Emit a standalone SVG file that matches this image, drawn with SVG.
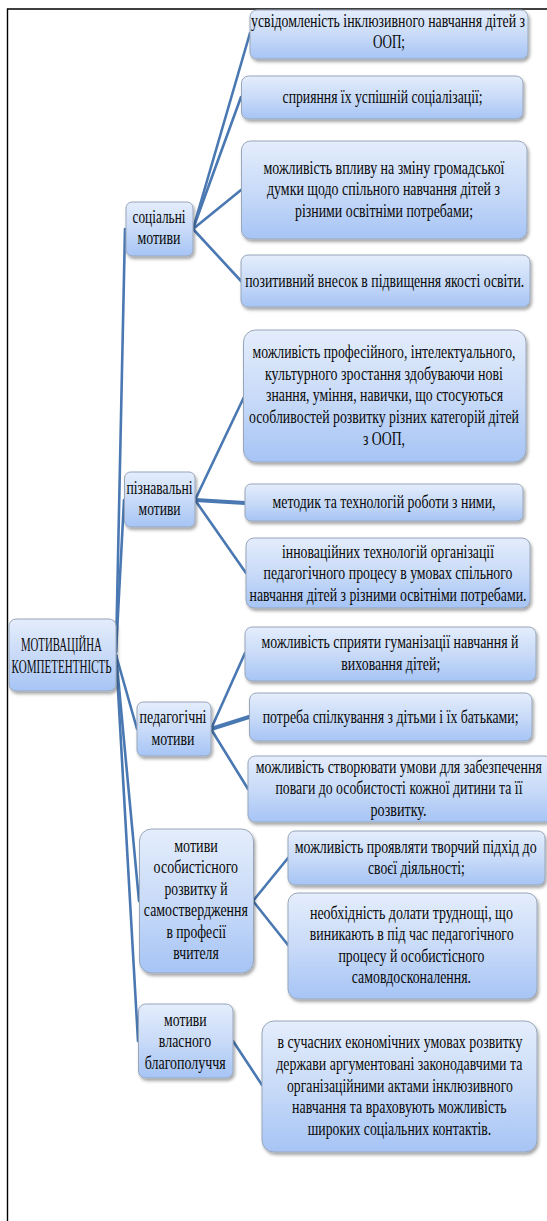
<svg xmlns="http://www.w3.org/2000/svg" width="547" height="1221" viewBox="0 0 547 1221">
<defs>
<linearGradient id="g" x1="0" y1="0" x2="0" y2="1">
<stop offset="0" stop-color="#e4edfc"/>
<stop offset="0.5" stop-color="#c9dbf8"/>
<stop offset="1" stop-color="#a6c4f5"/>
</linearGradient>
<filter id="sh" x="-10%" y="-10%" width="125%" height="130%">
<feDropShadow dx="1.5" dy="2.5" stdDeviation="1.5" flood-color="#000" flood-opacity="0.35"/>
</filter>
</defs>
<style>
.b{fill:url(#g);stroke:#98a6ba;stroke-width:1;filter:url(#sh)}
.t{font-family:"Liberation Serif","Times New Roman",serif;font-size:18.5px;fill:#0a0a0a;text-anchor:middle}
.c{fill:none;stroke:#4a78b2;stroke-width:2.6;stroke-linecap:round}
.k{stroke-width:4}
.f{stroke:#000;stroke-width:1.4;fill:none}
</style>
<rect width="547" height="1221" fill="#fff"/>
<path class="f" d="M7.5 1221 V9 H547"/>
<g id="connectors">
<path class="c" d="M116 652 L125 229"/>
<path class="c" d="M116 652 L124 500"/>
<path class="c" d="M116 655 L137 729"/>
<path class="c" d="M116 655 L139 901"/>
<path class="c" d="M116 655 L138 1041"/>
<path class="c" d="M193 229 L250 33"/>
<path class="c" d="M193 229 L241 97"/>
<path class="c" d="M193 229 L241 190"/>
<path class="c" d="M193 229 L241 281"/>
<path class="c" d="M195 500 L244 397"/>
<path class="c k" d="M195 500 L245 503"/>
<path class="c" d="M195 500 L246 573"/>
<path class="c" d="M211 729 L245 653"/>
<path class="c k" d="M211 729 L249 717"/>
<path class="c" d="M211 729 L248 789"/>
<path class="c" d="M253 901 L288 858"/>
<path class="c" d="M253 901 L288 945"/>
<path class="c" d="M233 1041 L262 1085"/>
</g>
<g id="n1"><rect class="b" x="250" y="10" width="278" height="49" rx="7"/>
<text class="t" transform="translate(388 0) scale(0.63 1)" y="27" textLength="434.9" lengthAdjust="spacingAndGlyphs">усвідомленість інклюзивного навчання дітей з</text>
<text class="t" transform="translate(389 0) scale(0.63 1)" y="48.5" textLength="50.8" lengthAdjust="spacingAndGlyphs">ООП;</text></g>
<g id="n2"><rect class="b" x="241.5" y="76" width="281.5" height="43" rx="7"/>
<text class="t" transform="translate(382.6 0) scale(0.63 1)" y="103" textLength="317.5" lengthAdjust="spacingAndGlyphs">сприяння їх успішній соціалізації;</text></g>
<g id="n3"><rect class="b" x="241.5" y="141" width="285.5" height="98" rx="9"/>
<text class="t" transform="translate(384 0) scale(0.63 1)" y="174" textLength="382.5" lengthAdjust="spacingAndGlyphs">можливість впливу на зміну громадської</text>
<text class="t" transform="translate(383.5 0) scale(0.63 1)" y="195.5" textLength="369.8" lengthAdjust="spacingAndGlyphs">думки щодо спільного навчання дітей з</text>
<text class="t" transform="translate(384 0) scale(0.63 1)" y="217" textLength="282.5" lengthAdjust="spacingAndGlyphs">різними освітніми потребами;</text></g>
<g id="n4"><rect class="b" x="241" y="255" width="289" height="52" rx="7"/>
<text class="t" transform="translate(384.7 0) scale(0.63 1)" y="287" textLength="442.9" lengthAdjust="spacingAndGlyphs">позитивний внесок в підвищення якості освіти.</text></g>
<g id="social"><rect class="b" x="126" y="202" width="67" height="54" rx="6"/>
<text class="t" transform="translate(159 0) scale(0.63 1)" y="223" textLength="84.1" lengthAdjust="spacingAndGlyphs">соціальні</text>
<text class="t" transform="translate(159 0) scale(0.63 1)" y="244.5" textLength="68.3" lengthAdjust="spacingAndGlyphs">мотиви</text></g>
<g id="n5"><rect class="b" x="243.5" y="330" width="282.5" height="132" rx="12"/>
<text class="t" transform="translate(384 0) scale(0.63 1)" y="358" textLength="417.5" lengthAdjust="spacingAndGlyphs">можливість професійного, інтелектуального,</text>
<text class="t" transform="translate(384 0) scale(0.63 1)" y="380" textLength="377.8" lengthAdjust="spacingAndGlyphs">культурного зростання здобуваючи нові</text>
<text class="t" transform="translate(384.5 0) scale(0.63 1)" y="401.5" textLength="376.2" lengthAdjust="spacingAndGlyphs">знання, уміння, навички, що стосуються</text>
<text class="t" transform="translate(384 0) scale(0.63 1)" y="423" textLength="428.6" lengthAdjust="spacingAndGlyphs">особливостей розвитку різних категорій дітей</text>
<text class="t" transform="translate(384 0) scale(0.63 1)" y="445" textLength="66.7" lengthAdjust="spacingAndGlyphs">з ООП,</text></g>
<g id="pizn"><rect class="b" x="124.5" y="472" width="70.5" height="55" rx="6"/>
<text class="t" transform="translate(159.5 0) scale(0.63 1)" y="494" textLength="104.8" lengthAdjust="spacingAndGlyphs">пізнавальні</text>
<text class="t" transform="translate(159.6 0) scale(0.63 1)" y="515.5" textLength="66.7" lengthAdjust="spacingAndGlyphs">мотиви</text></g>
<g id="n6"><rect class="b" x="245" y="484" width="278" height="37" rx="6"/>
<text class="t" transform="translate(384 0) scale(0.63 1)" y="508" textLength="354" lengthAdjust="spacingAndGlyphs">методик та технологій роботи з ними,</text></g>
<g id="n7"><rect class="b" x="246" y="538" width="284" height="70" rx="8"/>
<text class="t" transform="translate(388 0) scale(0.63 1)" y="558" textLength="336.5" lengthAdjust="spacingAndGlyphs">інноваційних технологій організації</text>
<text class="t" transform="translate(388 0) scale(0.63 1)" y="579.5" textLength="395.2" lengthAdjust="spacingAndGlyphs">педагогічного процесу в умовах спільного</text>
<text class="t" transform="translate(388 0) scale(0.63 1)" y="601" textLength="439.7" lengthAdjust="spacingAndGlyphs">навчання дітей з різними освітніми потребами.</text></g>
<g id="root"><rect class="b" x="9" y="619" width="107" height="72" rx="7"/>
<text class="t" transform="translate(61.4 0) scale(0.63 1)" y="651" textLength="128.6" lengthAdjust="spacingAndGlyphs">МОТИВАЦІЙНА</text>
<text class="t" transform="translate(61.6 0) scale(0.63 1)" y="673" textLength="158.7" lengthAdjust="spacingAndGlyphs">КОМПЕТЕНТНІСТЬ</text></g>
<g id="ped"><rect class="b" x="137" y="702" width="74" height="54" rx="6"/>
<text class="t" transform="translate(173 0) scale(0.63 1)" y="723" textLength="106.3" lengthAdjust="spacingAndGlyphs">педагогічні</text>
<text class="t" transform="translate(173 0) scale(0.63 1)" y="745" textLength="68.3" lengthAdjust="spacingAndGlyphs">мотиви</text></g>
<g id="n8"><rect class="b" x="245" y="627" width="291" height="54" rx="7"/>
<text class="t" transform="translate(390 0) scale(0.63 1)" y="648" textLength="407.9" lengthAdjust="spacingAndGlyphs">можливість сприяти гуманізації навчання й</text>
<text class="t" transform="translate(390.8 0) scale(0.63 1)" y="670" textLength="157.1" lengthAdjust="spacingAndGlyphs">виховання дітей;</text></g>
<g id="n9"><rect class="b" x="249.5" y="693" width="282.5" height="48" rx="7"/>
<text class="t" transform="translate(390.6 0) scale(0.63 1)" y="723" textLength="406.3" lengthAdjust="spacingAndGlyphs">потреба спілкування з дітьми і їх батьками;</text></g>
<g id="n10"><rect class="b" x="248" y="756" width="304" height="66" rx="7"/>
<text class="t" transform="translate(398.8 0) scale(0.63 1)" y="773" textLength="454" lengthAdjust="spacingAndGlyphs">можливість створювати умови для забезпечення</text>
<text class="t" transform="translate(399 0) scale(0.63 1)" y="794.5" textLength="392.1" lengthAdjust="spacingAndGlyphs">поваги до особистості кожної дитини та її</text>
<text class="t" transform="translate(398.5 0) scale(0.63 1)" y="816" textLength="88.9" lengthAdjust="spacingAndGlyphs">розвитку.</text></g>
<g id="osob"><rect class="b" x="139.5" y="829" width="114" height="144" rx="12"/>
<text class="t" transform="translate(196 0) scale(0.63 1)" y="852" textLength="69.2" lengthAdjust="spacingAndGlyphs">мотиви</text>
<text class="t" transform="translate(195.8 0) scale(0.63 1)" y="873.5" textLength="134" lengthAdjust="spacingAndGlyphs">особистісного</text>
<text class="t" transform="translate(196 0) scale(0.63 1)" y="895" textLength="100" lengthAdjust="spacingAndGlyphs">розвитку й</text>
<text class="t" transform="translate(195.8 0) scale(0.63 1)" y="916.5" textLength="165.1" lengthAdjust="spacingAndGlyphs">самоствердження</text>
<text class="t" transform="translate(196.3 0) scale(0.63 1)" y="938" textLength="94.8" lengthAdjust="spacingAndGlyphs">в професії</text>
<text class="t" transform="translate(196 0) scale(0.63 1)" y="959.5" textLength="72.1" lengthAdjust="spacingAndGlyphs">вчителя</text></g>
<g id="n11"><rect class="b" x="288" y="831" width="257" height="54" rx="7"/>
<text class="t" transform="translate(415.7 0) scale(0.63 1)" y="853" textLength="384.1" lengthAdjust="spacingAndGlyphs">можливість проявляти творчий підхід до</text>
<text class="t" transform="translate(416.4 0) scale(0.63 1)" y="874.5" textLength="153.5" lengthAdjust="spacingAndGlyphs">своєї діяльності;</text></g>
<g id="n12"><rect class="b" x="288" y="893" width="249" height="106" rx="10"/>
<text class="t" transform="translate(411.4 0) scale(0.63 1)" y="919" textLength="322.2" lengthAdjust="spacingAndGlyphs">необхідність долати труднощі, що</text>
<text class="t" transform="translate(411.7 0) scale(0.63 1)" y="940.5" textLength="323.5" lengthAdjust="spacingAndGlyphs">виникають в під час педагогічного</text>
<text class="t" transform="translate(411.4 0) scale(0.63 1)" y="962" textLength="231.7" lengthAdjust="spacingAndGlyphs">процесу й особистісного</text>
<text class="t" transform="translate(411.4 0) scale(0.63 1)" y="983.5" textLength="189.4" lengthAdjust="spacingAndGlyphs">самовдосконалення.</text></g>
<g id="vlasn"><rect class="b" x="138.5" y="1004" width="94.5" height="74" rx="7"/>
<text class="t" transform="translate(185.3 0) scale(0.63 1)" y="1026" textLength="67.6" lengthAdjust="spacingAndGlyphs">мотиви</text>
<text class="t" transform="translate(185 0) scale(0.63 1)" y="1047.5" textLength="83" lengthAdjust="spacingAndGlyphs">власного</text>
<text class="t" transform="translate(185.3 0) scale(0.63 1)" y="1069" textLength="128.6" lengthAdjust="spacingAndGlyphs">благополуччя</text></g>
<g id="n13"><rect class="b" x="262" y="1021" width="275" height="131" rx="12"/>
<text class="t" transform="translate(399.9 0) scale(0.63 1)" y="1048" textLength="388.9" lengthAdjust="spacingAndGlyphs">в сучасних економічних умовах розвитку</text>
<text class="t" transform="translate(399.3 0) scale(0.63 1)" y="1070" textLength="390.5" lengthAdjust="spacingAndGlyphs">держави аргументовані законодавчими та</text>
<text class="t" transform="translate(399.9 0) scale(0.63 1)" y="1092" textLength="358.7" lengthAdjust="spacingAndGlyphs">організаційними актами інклюзивного</text>
<text class="t" transform="translate(399.3 0) scale(0.63 1)" y="1113.5" textLength="340.6" lengthAdjust="spacingAndGlyphs">навчання та враховують можливість</text>
<text class="t" transform="translate(399.5 0) scale(0.63 1)" y="1135.5" textLength="291.3" lengthAdjust="spacingAndGlyphs">широких соціальних контактів.</text></g>
</svg>
